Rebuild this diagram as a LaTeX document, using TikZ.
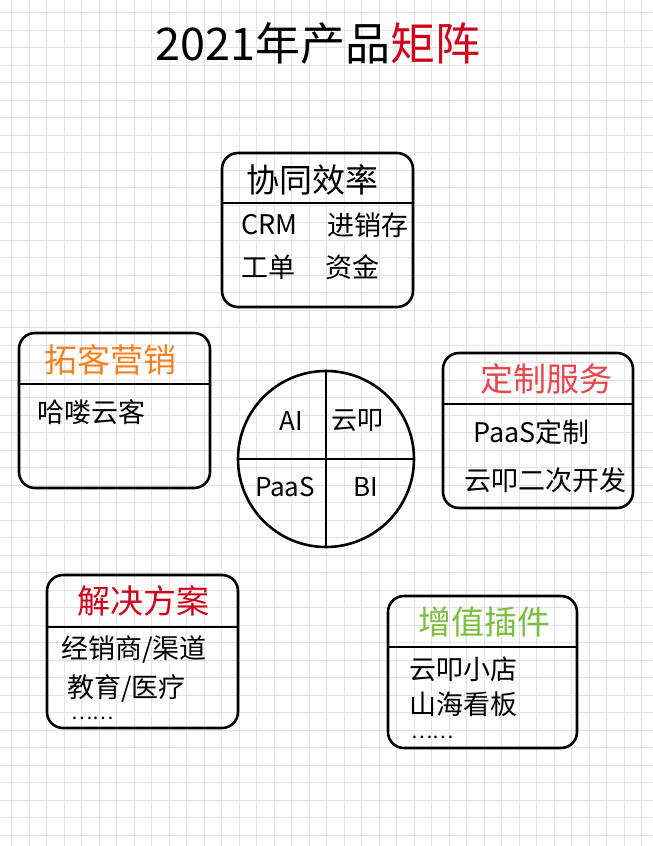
\documentclass[tikz,border=0pt]{standalone}
\usepackage{fontspec}
\setmainfont{Noto Sans CJK SC}
\definecolor{gridgray}{HTML}{E3E3E3}
\definecolor{tuoorange}{HTML}{F5821F}
\definecolor{dingred}{HTML}{E8474C}
\definecolor{jiered}{HTML}{D0021B}
\definecolor{zenggreen}{HTML}{7CBF3F}
\tikzset{
	panel/.style={draw, line width=2.6pt, rounded corners=16pt, inner sep=0pt},
	divider/.style={line width=2.4pt},
	heading/.style={font=\fontsize{33}{33}\selectfont},
	entry/.style={anchor=west, inner sep=1pt, font=\fontsize{27}{27}\selectfont},
	more/.style={anchor=west, inner sep=1pt, font=\fontsize{20}{20}\selectfont},
	gridline/.style={gridgray, line width=0.8pt},
}
\begin{document}
\begin{tikzpicture}[x=1pt, y=-1pt]
				\useasboundingbox (0,0) rectangle (653,846);
				\fill[white] (0,0) rectangle (653,846);
				%grid paper
				\foreach \k in {0, 1, ..., 36}{
					\draw[gridline] ({11.7+17.5*\k}, 0)--({11.7+17.5*\k}, 846);
				}
				\foreach \k in {0, 1, ..., 47}{
					\draw[gridline] (0, {12.4+17.5*\k})--(653, {12.4+17.5*\k});
				}
				%title
				\node (title) at (318, 43) [font=\fontsize{45}{45}\selectfont]{2021年产品\textcolor{jiered}{矩阵}};
				
				%协同效率
				\node (xt) at (317.5, 230) [panel, minimum width=191pt, minimum height=154pt]{};
				\draw[divider] (xt.west |- 0,203)--(xt.east |- 0,203);
				\node (xttitle) at (312, 180) [heading]{协同效率};
				\node (crm) at (240, 225) [entry]{CRM};
				\node (jxc) at (326, 225) [entry]{进销存};
				\node (gd) at (240, 267) [entry]{工单};
				\node (zj) at (324, 267) [entry]{资金};
				
				%拓客营销
				\node (tk) at (114.5, 410.5) [panel, minimum width=191pt, minimum height=155pt]{};
				\draw[divider] (tk.west |- 0,384)--(tk.east |- 0,384);
				\node (tktitle) at (110, 360) [heading, tuoorange]{拓客营销};
				\node (hl) at (36, 412) [entry]{哈喽云客};
				
				%中间的圆
				\node (core) at (326, 459) [circle, draw, line width=2.6pt, minimum size=176pt]{};
				\draw[divider] (core.north)--(core.south);
				\draw[divider] (core.west)--(core.east);
				\node (ai) at (291, 421) [font=\fontsize{26}{26}\selectfont]{AI};
				\node (yk) at (357, 421) [font=\fontsize{26}{26}\selectfont]{云叩};
				\node (paas) at (285, 487) [font=\fontsize{26}{26}\selectfont]{PaaS};
				\node (bi) at (366, 487) [font=\fontsize{26}{26}\selectfont]{BI};
				
				%定制服务
				\node (dz) at (538, 430.5) [panel, minimum width=190pt, minimum height=155pt]{};
				\draw[divider] (dz.west |- 0,404)--(dz.east |- 0,404);
				\node (dztitle) at (546, 379) [heading, dingred]{定制服务};
				\node (paasdz) at (472, 432) [entry]{PaaS定制};
				\node (ekf) at (463, 480) [entry]{云叩二次开发};
				
				%解决方案
				\node (jj) at (142.5, 651.5) [panel, minimum width=191pt, minimum height=153pt]{};
				\draw[divider] (jj.west |- 0,627)--(jj.east |- 0,627);
				\node (jjtitle) at (143, 601) [heading, jiered]{解决方案};
				\node (jxs) at (60, 650) [entry]{经销商/渠道};
				\node (jy) at (66, 688) [entry]{教育/医疗};
				\node (jjmore) at (70, 718) [more]{……};
				
				%增值插件
				\node (zz) at (482.5, 672) [panel, minimum width=189pt, minimum height=152pt]{};
				\draw[divider] (zz.west |- 0,647)--(zz.east |- 0,647);
				\node (zztitle) at (484, 622) [heading, zenggreen]{增值插件};
				\node (xd) at (408, 669) [entry]{云叩小店};
				\node (sh) at (408, 704) [entry]{山海看板};
				\node (zzmore) at (410, 737) [more]{……};
			\end{tikzpicture}
\end{document}
